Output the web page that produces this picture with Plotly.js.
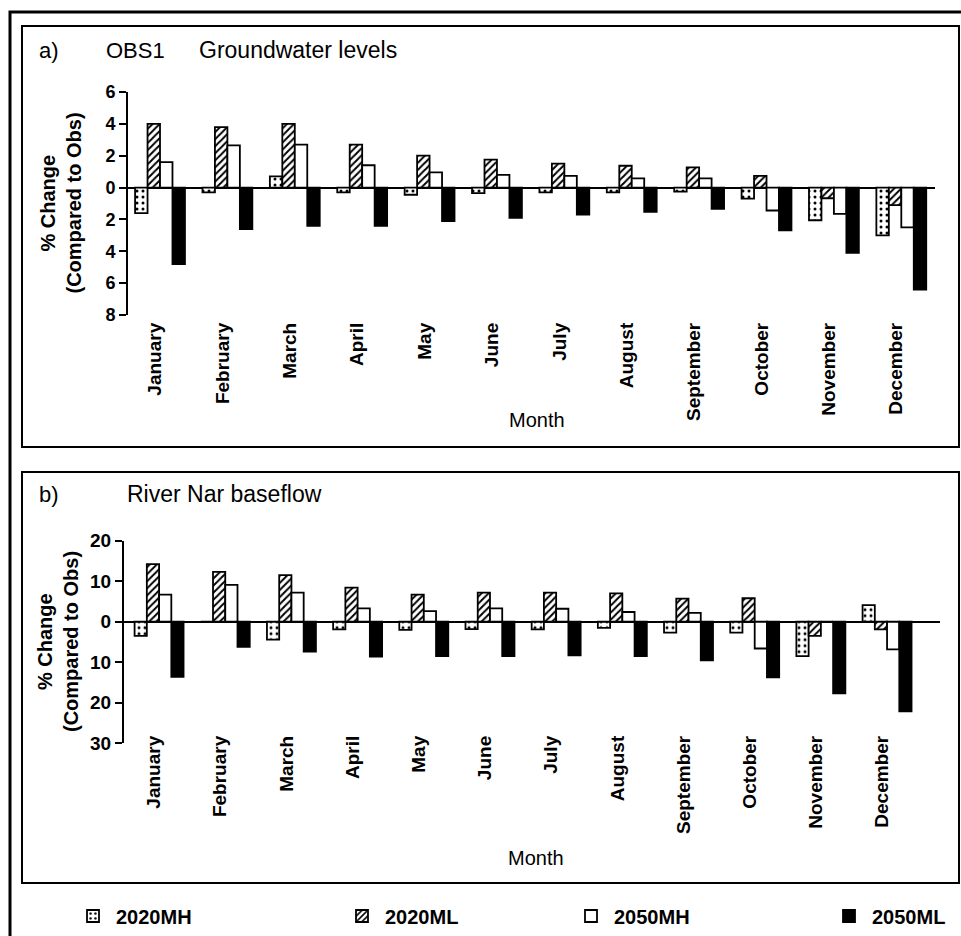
<!DOCTYPE html>
<html>
<head>
<meta charset="utf-8">
<script src="https://cdn.plot.ly/plotly-3.0.1.min.js"></script>
<style>html,body{margin:0;padding:0;background:#fff;}#chart{width:961px;height:936px;}</style>
</head>
<body>
<div id="chart"></div>
<script>
// ---- data ----
var months = ['January','February','March','April','May','June','July','August','September','October','November','December'];
var seriesNames = ['2020MH','2020ML','2050MH','2050ML'];

// a) OBS1 Groundwater levels (% change compared to obs)
var gw2020MH = [-1.6, -0.3, 0.7, -0.3, -0.45, -0.35, -0.3, -0.3, -0.25, -0.7, -2.05, -3.0];
var gw2020ML = [4.0, 3.8, 4.0, 2.7, 2.0, 1.75, 1.5, 1.37, 1.27, 0.73, -0.67, -1.1];
var gw2050MH = [1.6, 2.65, 2.7, 1.4, 0.95, 0.8, 0.73, 0.58, 0.58, -1.44, -1.65, -2.5];
var gw2050ML = [-4.8, -2.6, -2.4, -2.4, -2.1, -1.9, -1.7, -1.52, -1.33, -2.69, -4.1, -6.4];

// b) River Nar baseflow (% change compared to obs)
var bf2020MH = [-3.5, 0, -4.4, -1.9, -2.0, -1.8, -1.9, -1.5, -2.7, -2.7, -8.5, 4.1];
var bf2020ML = [14.2, 12.3, 11.5, 8.4, 6.7, 7.2, 7.2, 7.0, 5.7, 5.8, -3.5, -1.9];
var bf2050MH = [6.7, 9.1, 7.2, 3.3, 2.6, 3.3, 3.2, 2.4, 2.2, -6.6, 0, -6.8];
var bf2050ML = [-13.6, -6.2, -7.4, -8.6, -8.5, -8.5, -8.3, -8.5, -9.5, -13.7, -17.7, -22.1];

var gwTickVals = [-8,-6,-4,-2,0,2,4,6];
var gwTickText = ['8','6','4','2','0','2','4','6'];
var bfTickVals = [-30,-20,-10,0,10,20];
var bfTickText = ['30','20','10','0','10','20'];

// ---- styling ----
var W = 961, H = 936;
function px(x){ return x / W; }
function py(y){ return 1 - y / H; }
var FONT = 'Liberation Sans, Arial, Helvetica, sans-serif';

var markers = [
  {color:'white', line:{color:'black', width:1.8}, pattern:{shape:'.', fgcolor:'black', bgcolor:'white', size:6, solidity:0.2}},
  {color:'white', line:{color:'black', width:1.8}, pattern:{shape:'/', fgcolor:'black', bgcolor:'white', size:5, solidity:0.4}},
  {color:'white', line:{color:'black', width:1.8}},
  {color:'black', line:{color:'black', width:1.8}}
];
var legendIds = ['legend','legend2','legend3','legend4'];

var gwData = [gw2020MH, gw2020ML, gw2050MH, gw2050ML];
var bfData = [bf2020MH, bf2020ML, bf2050MH, bf2050ML];

var traces = [];
for (var i = 0; i < 4; i++) {
  traces.push({type:'bar', x:months, y:gwData[i], name:seriesNames[i], xaxis:'x', yaxis:'y',
    marker:markers[i], legend:legendIds[i], showlegend:true, hoverinfo:'x+y+name'});
}
for (var j = 0; j < 4; j++) {
  traces.push({type:'bar', x:months, y:bfData[j], name:seriesNames[j], xaxis:'x2', yaxis:'y2',
    marker:markers[j], legend:legendIds[j], showlegend:false, hoverinfo:'x+y+name'});
}

function xAxis(domain, range, pos) {
  return {domain:domain, range:range, type:'category', anchor:'free', position:pos,
    showline:false, ticks:'', tickangle:-90, showgrid:false, zeroline:false,
    ticklabelshift:-5,
    tickfont:{family:FONT, size:19, color:'black', weight:'bold'}, fixedrange:true};
}
function yAxis(domain, range, tv, tt, anchor, fs) {
  return {domain:domain, range:range, anchor:anchor, tickmode:'array', tickvals:tv, ticktext:tt,
    showline:true, linecolor:'black', linewidth:2, ticks:'outside', ticklen:7, tickwidth:2, tickcolor:'black',
    showgrid:false, zeroline:true, zerolinecolor:'black', zerolinewidth:2,
    tickfont:{family:FONT, size:fs, color:'black', weight:'bold'}, fixedrange:true};
}

function legendAt(xpx) {
  return {x:px(xpx), y:py(916), xanchor:'left', yanchor:'middle', orientation:'h',
    bgcolor:'rgba(0,0,0,0)', borderwidth:0, itemwidth:36,
    font:{family:FONT, size:20, color:'black', weight:'bold'}};
}

function ann(text, x, y, size, bold, opts) {
  var a = {text:text, x:px(x), y:py(y), xref:'paper', yref:'paper', showarrow:false,
    xanchor:'left', yanchor:'middle',
    font:{family:FONT, size:size, color:'black', weight: bold ? 'bold' : 'normal'}};
  if (opts) for (var k in opts) a[k] = opts[k];
  return a;
}

var layout = {
  width:W, height:H, margin:{l:0, r:0, t:0, b:0},
  paper_bgcolor:'white', plot_bgcolor:'rgba(0,0,0,0)',
  barmode:'group', bargap:0.26, bargroupgap:0,
  xaxis: xAxis([px(128), px(935)], [-0.475, 11.5], py(318)),
  yaxis: yAxis([py(315), py(92)], [-8, 6], gwTickVals, gwTickText, 'x', 18),
  xaxis2: xAxis([px(124), px(940)], [-0.53, 11.8], py(731)),
  yaxis2: yAxis([py(743.3), py(540.7)], [-30, 20], bfTickVals, bfTickText, 'x2', 19),
  legend: legendAt(70), legend2: legendAt(339), legend3: legendAt(568), legend4: legendAt(826),
  shapes: [
    {type:'rect', xref:'paper', yref:'paper', x0:px(10), x1:px(975), y0:py(960), y1:py(12), line:{color:'black', width:3}},
    {type:'rect', xref:'paper', yref:'paper', x0:px(22), x1:px(959), y0:py(447), y1:py(26), line:{color:'black', width:2}},
    {type:'rect', xref:'paper', yref:'paper', x0:px(22), x1:px(959), y0:py(883), y1:py(472), line:{color:'black', width:2}}
  ],
  annotations: [
    ann('a)', 37, 50, 22, false),
    ann('OBS1', 104, 50, 22, false),
    ann('Groundwater levels', 197, 50, 23, false),
    ann('b)', 37, 494, 22, false),
    ann('River Nar baseflow', 125, 494, 23, false),
    ann('% Change', 47, 203.5, 20, true, {textangle:-90, xanchor:'center', yanchor:'middle'}),
    ann('(Compared to Obs)', 73, 203.5, 20, true, {textangle:-90, xanchor:'center', yanchor:'middle'}),
    ann('% Change', 45, 642, 20, true, {textangle:-90, xanchor:'center', yanchor:'middle'}),
    ann('(Compared to Obs)', 71, 642, 20, true, {textangle:-90, xanchor:'center', yanchor:'middle'}),
    ann('Month', 537, 420, 20, false, {xanchor:'center'}),
    ann('Month', 536, 858, 20, false, {xanchor:'center'})
  ]
};

Plotly.newPlot('chart', traces, layout, {displayModeBar:false, staticPlot:true});
</script>
</body>
</html>
